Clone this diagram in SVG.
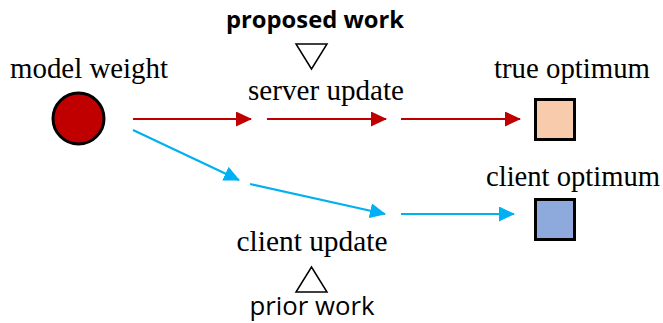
<svg xmlns="http://www.w3.org/2000/svg" width="663" height="323" viewBox="0 0 663 323">
<style>
.t{font-family:"Liberation Serif","Times New Roman","DejaVu Serif",serif;font-size:29px;fill:#000}
.b{font-family:"Open Sans","Liberation Sans",sans-serif;font-size:24px;font-weight:bold;fill:#000}
.s{font-family:"Open Sans","Liberation Sans",sans-serif;font-size:25px;fill:#000}
.red{stroke:#C00000;stroke-width:2.2;fill:none}
.blue{stroke:#00B0F0;stroke-width:2.2;fill:none}
.tri{fill:#fff;stroke:#000;stroke-width:1.5}
</style>
<defs>
<marker id="ar" viewBox="0 0 16 15" refX="15" refY="7.5" markerWidth="16" markerHeight="15" markerUnits="userSpaceOnUse" orient="auto">
<path d="M0,0 L16,7.5 L0,15 z" fill="#C00000"/>
</marker>
<marker id="ab" viewBox="0 0 16 15" refX="15" refY="7.5" markerWidth="16" markerHeight="15" markerUnits="userSpaceOnUse" orient="auto">
<path d="M0,0 L16,7.5 L0,15 z" fill="#00B0F0"/>
</marker>
</defs>
<g id="model-weight">
<text class="t" x="89" y="78" text-anchor="middle" textLength="158" lengthAdjust="spacingAndGlyphs">model weight</text>
<circle cx="78.5" cy="118.5" r="25.5" fill="#C00000" stroke="#000" stroke-width="3"/>
</g>
<g id="true-optimum">
<text class="t" x="572" y="78" text-anchor="middle" textLength="156" lengthAdjust="spacingAndGlyphs">true optimum</text>
<rect x="535.5" y="99.5" width="39" height="40" fill="#F8CBAD" stroke="#000" stroke-width="3"/>
</g>
<g id="client-optimum">
<text class="t" x="573" y="186" text-anchor="middle" textLength="174" lengthAdjust="spacingAndGlyphs">client optimum</text>
<rect x="535.5" y="199.5" width="39" height="40" fill="#8EA9DB" stroke="#000" stroke-width="3"/>
</g>
<g id="server-update">
<text class="b" x="315" y="28" text-anchor="middle" textLength="178" lengthAdjust="spacingAndGlyphs">proposed work</text>
<polygon class="tri" points="296,44 327,44 311.5,69"/>
<text class="t" x="326" y="100" text-anchor="middle" textLength="156" lengthAdjust="spacingAndGlyphs">server update</text>
</g>
<g id="client-update">
<text class="t" x="312" y="251" text-anchor="middle" textLength="151" lengthAdjust="spacingAndGlyphs">client update</text>
<polygon class="tri" points="296,292 327,292 311.5,267"/>
<text class="s" x="312" y="315" text-anchor="middle" textLength="125" lengthAdjust="spacingAndGlyphs">prior work</text>
</g>
<g id="connectors">
<line class="red" x1="133" y1="119" x2="251" y2="119" marker-end="url(#ar)"/>
<line class="red" x1="267" y1="119" x2="386" y2="119" marker-end="url(#ar)"/>
<line class="red" x1="401" y1="119" x2="520" y2="119" marker-end="url(#ar)"/>
<line class="blue" x1="133" y1="130" x2="239" y2="180" marker-end="url(#ab)"/>
<line class="blue" x1="250" y1="184" x2="385" y2="214" marker-end="url(#ab)"/>
<line class="blue" x1="401" y1="214" x2="514" y2="214" marker-end="url(#ab)"/>
</g>
</svg>
